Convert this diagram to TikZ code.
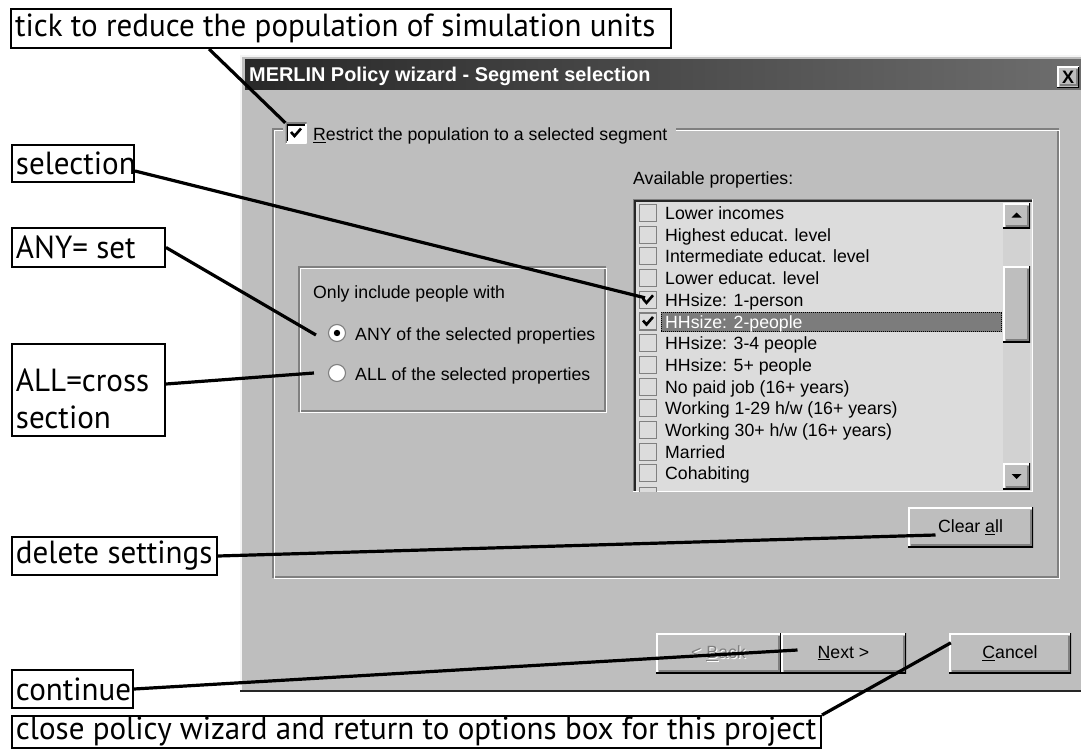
\documentclass[tikz,border=0pt]{standalone}
\usepackage{fontspec}
\setmainfont{Liberation Sans}
\newfontfamily\notefont[FakeStretch=0.97]{PT Sans}
\usetikzlibrary{calc}

\definecolor{winface}{HTML}{BEBEBE}
\definecolor{winshadow}{HTML}{808080}
\definecolor{listbg}{HTML}{DCDCDC}
\definecolor{trackbg}{HTML}{D2D2D2}
\definecolor{titleA}{HTML}{282828}
\definecolor{titleB}{HTML}{6E6E6E}
\definecolor{selbg}{HTML}{7C7C7C}

\newcommand\dlgfont{\fontsize{17.7}{20}\selectfont}
\newcommand\notesize{\notefont\fontsize{32}{37}\selectfont}
% fixed-width, left-aligned callout line (never wraps)
\newcommand\ctext[2]{\makebox[#1pt][l]{#2}}

% check mark centred on a given anchor
\newcommand\drawtick[1]{%
  \draw[line width=2.6pt] ([xshift=-5pt,yshift=1pt]#1) -- ([xshift=-1.5pt,yshift=-3pt]#1) -- ([xshift=5pt,yshift=4.5pt]#1);}

\begin{document}
\begin{tikzpicture}[x=1pt,y=-1pt,
  raised/.style={fill=winface, inner sep=0pt, font=\dlgfont,
    path picture={
      \path (path picture bounding box.south west) coordinate (bsw)
            (path picture bounding box.north east) coordinate (bne);
      \draw[white, line width=3pt] (bsw) |- (bne);
      \draw[winshadow, line width=2pt] ([xshift=2.5pt,yshift=2.5pt]bsw) -| ([xshift=-2.5pt,yshift=-2.5pt]bne);
      \draw[black, line width=2.6pt] (bsw) -| (bne);
    }},
  sunken/.style={inner sep=0pt,
    path picture={
      \path (path picture bounding box.south west) coordinate (ksw)
            (path picture bounding box.north east) coordinate (kne);
      \draw[white, line width=2.6pt] (ksw) -| (kne);
      \draw[winshadow, line width=2.6pt] (ksw) |- (kne);
      \draw[black, line width=1.2pt] ([xshift=2pt,yshift=2pt]ksw) |- ([xshift=-2pt,yshift=-2pt]kne);
    }},
  listbox/.style={minimum size=17pt, inner sep=0pt, fill=listbg, draw=winshadow, line width=1.1pt},
  radio/.style={circle, minimum size=17pt, inner sep=0pt, fill=white, draw=winshadow, line width=1.1pt},
  dlgtext/.style={anchor=base west, inner sep=0pt, font=\dlgfont},
  callout/.style={draw=black, line width=2pt, fill=white, anchor=north west,
    inner xsep=4pt, inner ysep=0pt, align=left, font=\notesize},
  conn/.style={line width=3.2pt, black},
  etched/.style={line width=1.2pt}
]
\useasboundingbox (0,0) rectangle (1081,749);
\fill[white] (0,0) rectangle (1081,749);

% ---------- dialog window ----------
\fill[winface] (240,55) rectangle (1081,692);
\draw[line width=1.3pt, white!85!winface] (241,692) -- (241,56) -- (1081,56);
\draw[line width=1.6pt, black!85] (240,691.2) -- (1081,691.2);

% title bar
\shade[left color=titleA, right color=titleB] (245,60) rectangle (1081,90);
\node[anchor=base west, inner sep=0pt, text=white,
      font=\fontsize{19.9}{22}\selectfont\bfseries] (title) at (249,82)
      {MERLIN Policy wizard - Segment selection};
\node[raised, minimum width=22pt, minimum height=21pt,
      font=\fontsize{18}{20}\selectfont\bfseries] (closex) at (1068,77.5) {X};

% group frame with its check box
\draw[winshadow, etched] (283,129) -- (273,129) -- (273,577) -- (1058,577) -- (1058,129) -- (676,129);
\draw[white, etched] (283,130.5) -- (274.5,130.5) -- (274.5,578.5) -- (1059.5,578.5) -- (1059.5,130.5) -- (676,130.5);
\node[sunken, fill=white, minimum width=21pt, minimum height=20pt] (chk) at (296,133) {};
\drawtick{chk.center}
\node[dlgtext] (restrict) at (313,141) {\underline{R}estrict the population to a selected segment};

% radio group
\draw[winshadow, etched] (299,267) rectangle (605,411);
\draw[white, etched] (300.5,268.5) rectangle (606.5,412.5);
\node[dlgtext] (onlyinc) at (313,298) {Only include people with};
\node[radio] (rany) at (337,333) {};
\fill (rany.center) circle (3.2pt);
\node[radio] (rall) at (337,373) {};
\node[dlgtext] (anytxt) at (355,340) {ANY of the selected properties};
\node[dlgtext] (alltxt) at (355,380) {ALL of the selected properties};

% property list
\node[dlgtext] (avail) at (633,184) {Available properties:};
\fill[listbg] (633,199) rectangle (1033,492);
\draw[winshadow, line width=1.3pt] (633.6,492) -- (633.6,199.6) -- (1033,199.6);
\draw[black!85, line width=1.3pt] (635,491) -- (635,201) -- (1032,201);
\draw[white, line width=1.3pt] (633,491.4) -- (1032.4,491.4) -- (1032.4,199);

\begin{scope}
  \clip (636,202) rectangle (1003,491);
  \fill[selbg] (661,311.5) rectangle (1002,331.5);
  \draw[black, dash pattern=on 1pt off 1pt, line width=0.8pt] (661.5,312) rectangle (1001.5,331);
  \foreach \i/\t/\c in {1/{Lower incomes}/black, 2/{Highest educat. level}/black,
      3/{Intermediate educat. level}/black, 4/{Lower educat. level}/black,
      5/{HHsize: 1-person}/black, 6/{HHsize: 2-people}/white,
      7/{HHsize: 3-4 people}/black, 8/{HHsize: 5+ people}/black,
      9/{No paid job (16+ years)}/black, 10/{Working 1-29 h/w (16+ years)}/black,
      11/{Working 30+ h/w (16+ years)}/black, 12/{Married}/black,
      13/{Cohabiting}/black}{
    \pgfmathsetmacro\yb{219.5+(\i-1)*21.7}
    \node[listbox] (cb\i) at (648,\yb-6.5) {};
    \node[dlgtext, text=\c] (it\i) at (665,\yb) {\t};
  }
  \node[listbox] (cb14) at (648,495.6) {};
\end{scope}
\drawtick{cb5.center}
\drawtick{cb6.center}

% scroll bar
\fill[trackbg] (1003,203) rectangle (1030,489);
\node[raised, minimum width=27pt, minimum height=25pt] (scrollup) at (1016.5,215.5) {};
\fill ([yshift=3pt]scrollup.center) -- ([xshift=-5pt,yshift=-2pt]scrollup.center) -- ([xshift=5pt,yshift=-2pt]scrollup.center) -- cycle;
\node[raised, minimum width=27pt, minimum height=76pt] (thumb) at (1016.5,304) {};
\node[raised, minimum width=27pt, minimum height=26pt] (scrolldown) at (1016.5,476) {};
\fill ([yshift=-3pt]scrolldown.center) -- ([xshift=-5pt,yshift=2pt]scrolldown.center) -- ([xshift=5pt,yshift=2pt]scrolldown.center) -- cycle;

% push buttons
\node[raised, minimum width=125pt, minimum height=40pt] (clear) at (970.5,527) {Clear \underline{a}ll};
\node[raised, minimum width=125pt, minimum height=40pt] (back) at (718.5,653) {};
\node[font=\dlgfont, inner sep=0pt, text=white] (backhi) at ([xshift=1pt,yshift=-1pt]back.center) {< \underline{B}ack};
\node[font=\dlgfont, inner sep=0pt, text=winshadow] (backtxt) at (back.center) {< \underline{B}ack};
\node[raised, minimum width=125pt, minimum height=40pt] (next) at (843.5,653) {\underline{N}ext >};
\node[raised, minimum width=122pt, minimum height=40pt] (cancel) at (1010,653) {\underline{C}ancel};

% ---------- callouts ----------
\node[callout, minimum height=39pt] (tick) at (10,8)
  {\ctext{652}{tick to reduce the population of simulation units}};
\node[callout, minimum height=37pt] (sel) at (11,144) {\ctext{114}{selection}};
\node[callout, minimum height=39pt] (anyc) at (11,227) {\ctext{145}{ANY= set}};
\node[callout, text width=145pt, minimum height=92pt, text depth=20pt] (allc) at (11,343) {ALL=cross\\section};
\node[callout, minimum height=38pt] (del) at (11,536) {\ctext{197}{delete settings}};
\node[callout, minimum height=38pt] (cont) at (11,669) {\ctext{113}{continue}};
\node[callout, minimum height=32pt] (closec) at (11,715)
  {\ctext{801}{close policy wizard and return to options box for this project}};

% ---------- connectors ----------
\draw[conn] ([xshift=199pt]tick.south west) -- (chk.north west);
\draw[conn] ([yshift=-7.5pt]sel.east) -- ([xshift=-3pt,yshift=2pt]cb5.center);
\draw[conn] (anyc.east) -- ([xshift=-12pt,yshift=-2pt]rany.west);
\draw[conn] ([yshift=6pt]allc.east) -- ([xshift=-14pt]rall.west);
\draw[conn] (del.east) -- ([xshift=-35pt,yshift=-8pt]clear.center);
\draw[conn] (cont.east) -- ([xshift=-46pt,yshift=3pt]next.center);
\draw[conn] (closec.north east) -- ([xshift=2pt,yshift=-10pt]cancel.north west);
\end{tikzpicture}
\end{document}
